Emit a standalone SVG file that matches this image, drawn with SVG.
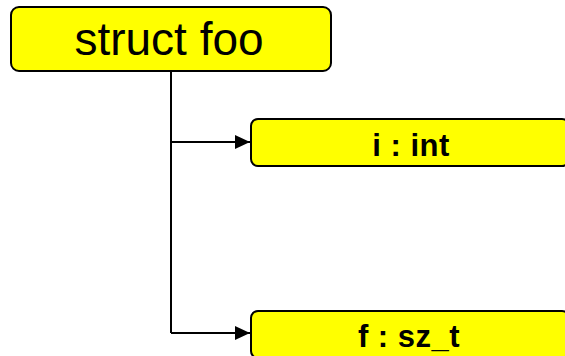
<svg xmlns="http://www.w3.org/2000/svg" width="565" height="356" viewBox="0 0 565 356">
  <style>
    .box { fill: #ffff00; stroke: #000; stroke-width: 2; }
    .title { font-family: "Liberation Sans", Arial, sans-serif; font-size: 46px; fill: #000; text-anchor: middle; }
    .field { font-family: "Liberation Sans", Arial, sans-serif; font-size: 31px; font-weight: bold; fill: #000; text-anchor: middle; letter-spacing: 0.5px; }
    .wire { fill: none; stroke: #000; stroke-width: 2; }
  </style>
  <defs>
    <marker id="arrow" markerWidth="16" markerHeight="14" refX="15" refY="7" orient="auto" markerUnits="userSpaceOnUse">
      <path d="M0,0 L15,7 L0,14 Z" fill="#000"/>
    </marker>
  </defs>

  <g id="connectors">
    <path class="wire" d="M171,71 V333"/>
    <path class="wire" d="M171,142 H250" marker-end="url(#arrow)"/>
    <path class="wire" d="M171,333 H250" marker-end="url(#arrow)"/>
  </g>

  <g id="struct-foo">
    <rect class="box" x="11" y="7" width="320" height="64" rx="8"/>
    <text class="title" x="169" y="55">struct foo</text>
  </g>

  <g id="field-i">
    <rect class="box" x="251" y="119" width="318" height="47" rx="7"/>
    <text class="field" x="411" y="156">i : int</text>
  </g>

  <g id="field-f">
    <rect class="box" x="251" y="311" width="318" height="47" rx="7"/>
    <text class="field" x="409" y="347">f : sz_t</text>
  </g>
</svg>
